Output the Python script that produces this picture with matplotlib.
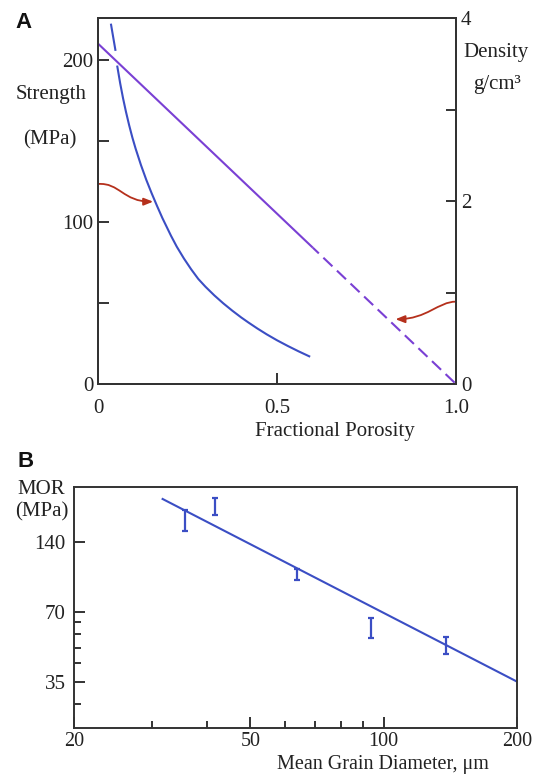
import matplotlib
matplotlib.use('Agg')
import matplotlib.pyplot as plt
from matplotlib.patches import FancyArrowPatch
from matplotlib.path import Path
from matplotlib.ticker import FixedLocator, FixedFormatter, NullFormatter

SERIF = ['Liberation Serif', 'DejaVu Serif']
SANS = ['Liberation Sans', 'DejaVu Sans']
plt.rcParams['font.family'] = SERIF

# ---------------- Panel A data ----------------
strength_ext_p = [0.036, 0.049]
strength_ext_s = [222.5, 205.7]
strength_p = [0.054, 0.062, 0.070, 0.078, 0.087, 0.096, 0.105, 0.120, 0.135,
              0.150, 0.165, 0.180, 0.204, 0.220, 0.240, 0.260, 0.280, 0.300,
              0.325, 0.350, 0.375, 0.400, 0.420, 0.445, 0.471, 0.500, 0.530,
              0.560, 0.590]
strength_s = [196, 185.6, 176.4, 168.2, 159.8, 152.2, 145.4, 135.2, 126.0,
              117.7, 109.9, 102.4, 91.5, 84.8, 77.5, 70.9, 64.9, 60.1,
              54.7, 49.8, 45.3, 41.1, 38.0, 34.3, 30.7, 27.0, 23.5,
              20.2, 17.1]
density_solid_p = [0.0, 0.6]
density_solid = [3.72, 1.49]
density_dash_p = [0.6, 1.0]
density_dash = [1.49, 0.0]
arrow_strength = [(0.0, 123.5), (0.06, 124.5), (0.07, 112.5), (0.154, 112.6)]
arrow_density = [(1.0, 0.90), (0.95, 0.90), (0.92, 0.71), (0.831, 0.708)]
strength_ticks = [0, 50, 100, 150, 200]
strength_labels = ['0', '', '100', '', '200']
density_ticks = [0, 1, 2, 3, 4]
density_labels = ['0', '', '2', '', '4']
porosity_ticks = [0, 0.5, 1.0]
porosity_labels = ['0', '0.5', '1.0']

# ---------------- Panel B data ----------------
fit_d = [31.7, 200]
fit_mor = [214, 35]
grain_d = [35.6, 41.6, 63.6, 93.4, 138.6]
mor_low = [156, 182, 95.5, 54.2, 45.8]
mor_high = [191, 216, 107, 66, 54.7]
d_ticks = [20, 50, 100, 200]
d_labels = ['20', '50', '100', '200']
d_minor = [30, 40, 60, 70, 80, 90]
mor_ticks = [35, 70, 140]
mor_labels = ['35', '70', '140']
mor_minor = [28, 42, 49, 56, 63]

W, H = 535, 775
fig = plt.figure(figsize=(W / 100, H / 100), dpi=100)
fig.patch.set_facecolor('white')

SPINE = '#333333'
BLUE = '#3b4ec4'
PURPLE = '#7a40d4'
RED = '#b5301c'
FS = 15


def ft(x, y, s, **kw):
    fig.text(x / W, 1 - y / H, s, ha='center', va='center', **kw)


def box(l, t, r, b):
    return [l / W, 1 - b / H, (r - l) / W, (b - t) / H]


# ---------------- Panel A ----------------
axA = fig.add_axes(box(98, 18, 456, 384))
axA.set_xlim(0, 1.0)
axA.set_ylim(0, 226)
axA.plot(strength_ext_p, strength_ext_s, color=BLUE, lw=1.5, solid_capstyle='butt')
axA.plot(strength_p, strength_s, color=BLUE, lw=1.5)
axA.yaxis.set_major_locator(FixedLocator(strength_ticks))
axA.yaxis.set_major_formatter(FixedFormatter(strength_labels))
axA.xaxis.set_major_locator(FixedLocator(porosity_ticks))
axA.xaxis.set_major_formatter(FixedFormatter(porosity_labels))
axA.tick_params(axis='both', direction='in', length=8, width=1.4, color=SPINE,
                labelsize=FS, labelcolor='#222222')
axA.tick_params(axis='y', pad=3.5)
axA.tick_params(axis='x', pad=11)
for sp in axA.spines.values():
    sp.set_linewidth(1.4)
    sp.set_color(SPINE)

ax2 = axA.twinx()
ax2.set_ylim(0, 4)
ax2.plot(density_solid_p, density_solid, color=PURPLE, lw=1.5, solid_capstyle='butt')
ax2.plot(density_dash_p, density_dash, color=PURPLE, lw=1.5, linestyle=(2, (6, 3)))
ax2.yaxis.set_major_locator(FixedLocator(density_ticks))
ax2.yaxis.set_major_formatter(FixedFormatter(density_labels))
ax2.tick_params(axis='y', direction='in', length=7, width=1.4, color=SPINE,
                labelsize=FS, labelcolor='#222222', pad=3.5)
for sp in ax2.spines.values():
    sp.set_linewidth(1.4)
    sp.set_color(SPINE)

for pts, ax in ((arrow_strength, axA), (arrow_density, ax2)):
    path = Path(pts, [Path.MOVETO, Path.CURVE4, Path.CURVE4, Path.CURVE4])
    arr = FancyArrowPatch(path=path, transform=ax.transData,
                          arrowstyle='-|>,head_length=0.55,head_width=0.22',
                          mutation_scale=10, color=RED, lw=1.3)
    ax.add_patch(arr)

ft(24, 22, 'A', family=SANS, fontweight='bold', fontsize=16, color='#111111')
ft(51, 95, 'Strength', fontsize=FS, color='#222222')
ft(50, 140, '(MPa)', fontsize=FS, color='#222222')
ft(496, 53, 'Density', fontsize=FS, color='#222222')
ft(497, 84, 'g/cm³', fontsize=FS, color='#222222')
ft(335, 432, 'Fractional Porosity', fontsize=FS, color='#222222')

# ---------------- Panel B ----------------
axB = fig.add_axes(box(74, 487, 517, 728))
axB.set_xscale('log')
axB.set_yscale('log')
axB.set_xlim(20, 200)
axB.set_ylim(22.1, 241)
axB.plot(fit_d, fit_mor, color=BLUE, lw=1.5)
mid = [(lo + hi) / 2 for lo, hi in zip(mor_low, mor_high)]
err = [[m - lo for m, lo in zip(mid, mor_low)], [hi - m for m, hi in zip(mid, mor_high)]]
axB.errorbar(grain_d, mid, yerr=err, fmt='none', ecolor=BLUE, elinewidth=1.6,
             capsize=2, capthick=1.6)
axB.xaxis.set_major_locator(FixedLocator(d_ticks))
axB.xaxis.set_major_formatter(FixedFormatter(d_labels))
axB.xaxis.set_minor_locator(FixedLocator(d_minor))
axB.xaxis.set_minor_formatter(NullFormatter())
axB.yaxis.set_major_locator(FixedLocator(mor_ticks))
axB.yaxis.set_major_formatter(FixedFormatter(mor_labels))
axB.yaxis.set_minor_locator(FixedLocator(mor_minor))
axB.yaxis.set_minor_formatter(NullFormatter())
axB.tick_params(which='major', direction='in', length=8, width=1.4, color=SPINE,
                labelsize=FS, labelcolor='#222222')
axB.tick_params(which='minor', direction='in', length=5, width=1.4, color=SPINE)
axB.tick_params(axis='x', which='major', pad=3, labelsize=14.5)
axB.tick_params(axis='y', which='major', pad=6)
for sp in axB.spines.values():
    sp.set_linewidth(1.4)
    sp.set_color(SPINE)

ft(25.5, 462, 'B', family=SANS, fontweight='bold', fontsize=16, color='#111111')
ft(41, 490, 'MOR', fontsize=FS, color='#222222')
ft(42, 512, '(MPa)', fontsize=FS, color='#222222')
ft(383, 764, 'Mean Grain Diameter, μm', fontsize=14.5, color='#222222')

fig.savefig('out.png', dpi=100, facecolor='white')
